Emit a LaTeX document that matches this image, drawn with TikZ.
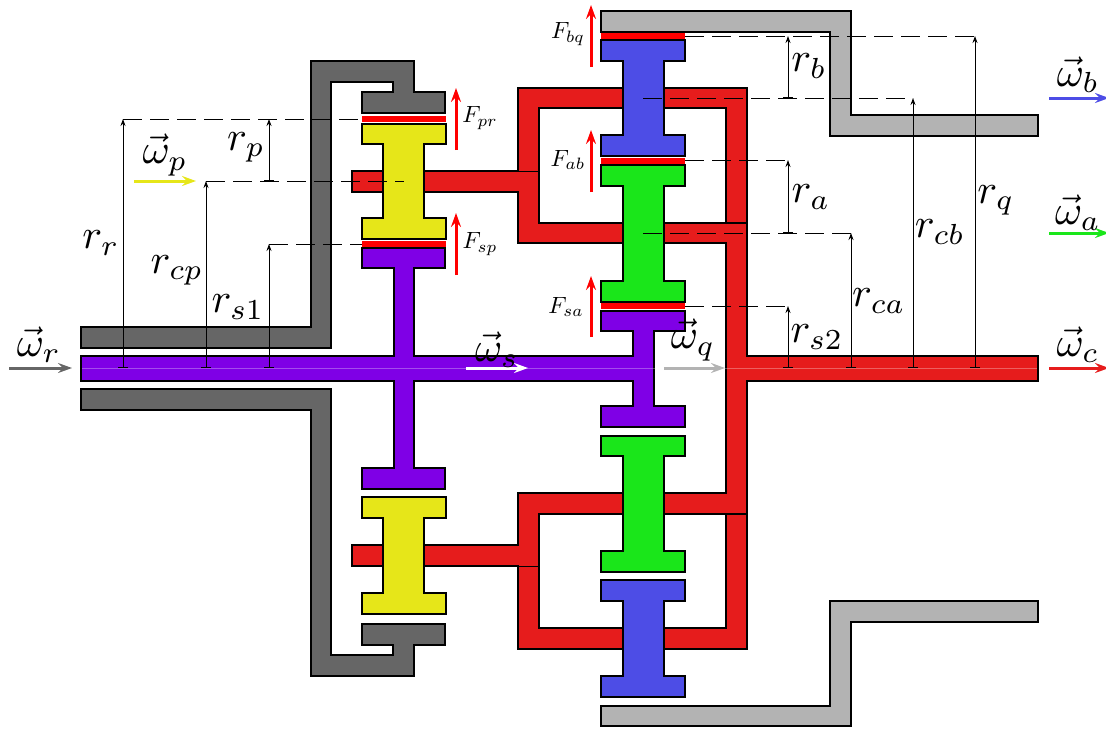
\documentclass[tikz,border=0pt]{standalone}
\usetikzlibrary{arrows.meta}
\definecolor{ringgray}{HTML}{666666}
\definecolor{lightgray}{HTML}{B3B3B3}
\definecolor{carred}{HTML}{E61C1C}
\definecolor{sunpurple}{HTML}{7F00E6}
\definecolor{planyellow}{HTML}{E6E619}
\definecolor{plangreen}{HTML}{1AE61A}
\definecolor{planblue}{HTML}{4D4DE6}
\tikzset{
	part/.style={draw=black,line width=2.2pt,line join=miter},
	strip/.style={fill=red,draw=none},
	seam/.style={line width=0.3pt,white,opacity=0.3},
	dim/.style={line width=0.9pt,{Bar[width=10pt,line width=1.4pt]}-{Stealth[length=7pt,width=5pt]}},
	guide/.style={line width=0.9pt,dash pattern=on 19pt off 8pt},
	speed/.style={line width=3pt,-{Stealth[length=14pt,width=10pt,inset=5pt]}},
	force/.style={line width=3pt,red,-{Stealth[length=14pt,width=10pt,inset=5pt]}},
	big/.style={scale=4.15,inner sep=0pt},
	small/.style={scale=2.35,inner sep=0pt}
}
\begin{document}
\begin{tikzpicture}[x=1pt,y=-1pt]
	\useasboundingbox (0,0) rectangle (1106,729);
	% rings and output
	\draw[part,fill=ringgray] (81,327) -- (311,327) -- (311,61) -- (414,61) -- (414,92) -- (445,92) -- (445,113) -- (362,113) -- (362,92) -- (393,92) -- (393,82) -- (331,82) -- (331,348) -- (81,348) -- cycle;
	\draw[part,fill=ringgray] (81,389) -- (331,389) -- (331,655) -- (393,655) -- (393,645) -- (362,645) -- (362,624) -- (445,624) -- (445,645) -- (414,645) -- (414,676) -- (311,676) -- (311,410) -- (81,410) -- cycle;
	\draw[part,fill=lightgray] (601,11) -- (851,11) -- (851,115) -- (1038,115) -- (1038,136) -- (830,136) -- (830,32) -- (601,32) -- cycle;
	\draw[part,fill=lightgray] (601,706) -- (830,706) -- (830,601) -- (1038,601) -- (1038,622) -- (851,622) -- (851,726) -- (601,726) -- cycle;
	% carrier
	\draw[part,fill=carred,even odd rule] (352,171) -- (518,171) -- (518,88) -- (747,88) -- (747,356) -- (1038,356) -- (1038,381) -- (747,381) -- (747,649) -- (518,649) -- (518,566) -- (352,566) -- (352,545) -- (518,545) -- (518,493) -- (726,493) -- (726,243) -- (518,243) -- (518,192) -- (352,192) -- cycle
		(539,108) -- (726,108) -- (726,223) -- (539,223) -- cycle
		(539,514) -- (726,514) -- (726,628) -- (539,628) -- cycle;
	\draw[line width=2.2pt] (726,223) -- (747,223);
	\draw[line width=2.2pt] (726,514) -- (747,514);
	\draw[line width=0.5pt] (518,171) -- (539,171);
	\draw[line width=0.5pt] (518,566) -- (539,566);
	% sun gears
	\draw[part,fill=sunpurple] (81,356) -- (394,356) -- (394,268) -- (362,268) -- (362,248) -- (445,248) -- (445,268) -- (414,268) -- (414,356) -- (633,356) -- (633,331) -- (601,331) -- (601,311) -- (685,311) -- (685,331) -- (654,331) -- (654,406) -- (685,406) -- (685,427) -- (601,427) -- (601,406) -- (633,406) -- (633,381) -- (414,381) -- (414,468) -- (445,468) -- (445,489) -- (362,489) -- (362,468) -- (394,468) -- (394,381) -- (81,381) -- cycle;
	% planets
	\draw[part,fill=planyellow] (362,124) -- (446,124) -- (446,144) -- (424,144) -- (424,218) -- (446,218) -- (446,239) -- (362,239) -- (362,218) -- (383,218) -- (383,144) -- (362,144) -- cycle;
	\draw[part,fill=planyellow] (362,497) -- (446,497) -- (446,518) -- (424,518) -- (424,593) -- (446,593) -- (446,614) -- (362,614) -- (362,593) -- (383,593) -- (383,518) -- (362,518) -- cycle;
	\draw[part,fill=planblue] (601,40) -- (685,40) -- (685,61) -- (664,61) -- (664,135) -- (685,135) -- (685,156) -- (601,156) -- (601,135) -- (623,135) -- (623,61) -- (601,61) -- cycle;
	\draw[part,fill=planblue] (601,580) -- (685,580) -- (685,601) -- (664,601) -- (664,676) -- (685,676) -- (685,697) -- (601,697) -- (601,676) -- (623,676) -- (623,601) -- (601,601) -- cycle;
	\draw[part,fill=plangreen] (601,165) -- (685,165) -- (685,186) -- (664,186) -- (664,281) -- (685,281) -- (685,302) -- (601,302) -- (601,281) -- (623,281) -- (623,186) -- (601,186) -- cycle;
	\draw[part,fill=plangreen] (601,436) -- (685,436) -- (685,456) -- (664,456) -- (664,551) -- (685,551) -- (685,572) -- (601,572) -- (601,551) -- (623,551) -- (623,456) -- (601,456) -- cycle;
	% contact strips
	\fill[strip] (362,116) rectangle (446,122);
	\fill[strip] (362,241) rectangle (446,247);
	\fill[strip] (601,33) rectangle (685,39);
	\fill[strip] (601,158) rectangle (685,164);
	\fill[strip] (601,303) rectangle (685,309);
	\draw[seam] (82,368) -- (1037,368);
	% radii
	\coordinate (rrb) at (123,368);
	\coordinate (rrt) at (123,119);
	\coordinate (rcpb) at (206,368);
	\coordinate (rcpt) at (206,181);
	\coordinate (rsab) at (269,368);
	\coordinate (rsat) at (269,244);
	\coordinate (rpb) at (269,181);
	\coordinate (rpt) at (269,119);
	\coordinate (rbb) at (788,98);
	\coordinate (rbt) at (788,36);
	\coordinate (rab) at (788,233);
	\coordinate (rat) at (788,160);
	\coordinate (rsbb) at (788,368);
	\coordinate (rsbt) at (788,306);
	\coordinate (rcab) at (851,368);
	\coordinate (rcat) at (851,233);
	\coordinate (rcbb) at (913,368);
	\coordinate (rcbt) at (913,98);
	\coordinate (rqb) at (975,368);
	\coordinate (rqt) at (975,36);
	\coordinate (prc) at (362,119);
	\coordinate (yec) at (404,181);
	\coordinate (spc) at (362,244);
	\coordinate (bqc) at (685,36);
	\coordinate (blc) at (643,98);
	\coordinate (abc) at (685,160);
	\coordinate (grc) at (643,233);
	\coordinate (sac) at (685,306);
	\draw[guide] (rrt) -- (prc);
	\draw[guide] (rcpt) -- (yec);
	\draw[guide] (rsat) -- (spc);
	\draw[guide] (bqc) -- (rqt);
	\draw[guide] (blc) -- (rcbt);
	\draw[guide] (abc) -- (rat);
	\draw[guide] (grc) -- (rcat);
	\draw[guide] (sac) -- (rsbt);
	\draw[dim] (rrb) -- (rrt);
	\draw[dim] (rcpb) -- (rcpt);
	\draw[dim] (rsab) -- (rsat);
	\draw[dim] (rpb) -- (rpt);
	\draw[dim] (rbb) -- (rbt);
	\draw[dim] (rab) -- (rat);
	\draw[dim] (rsbb) -- (rsbt);
	\draw[dim] (rcab) -- (rcat);
	\draw[dim] (rcbb) -- (rcbt);
	\draw[dim] (rqb) -- (rqt);
	\node[big] (Lrr) at (101,243) {$r_r$};
	\node[big] (Lrcp) at (177,270) {$r_{cp}$};
	\node[big] (Lrsa) at (238,307) {$r_{s1}$};
	\node[big] (Lrp) at (246,147) {$r_p$};
	\node[big] (Lrb) at (809,66) {$r_b$};
	\node[big] (Lra) at (811,197) {$r_a$};
	\node[big] (Lrsb) at (817,337) {$r_{s2}$};
	\node[big] (Lrca) at (879,301) {$r_{ca}$};
	\node[big] (Lrcb) at (940,232) {$r_{cb}$};
	\node[big] (Lrq) at (996,200) {$r_q$};
	% speeds
	\coordinate (wrs) at (9,368);
	\coordinate (wre) at (72,368);
	\coordinate (wps) at (134,181);
	\coordinate (wpe) at (196,181);
	\coordinate (wss) at (466,368);
	\coordinate (wse) at (528,368);
	\coordinate (wqs) at (664,368);
	\coordinate (wqe) at (725,368);
	\coordinate (wbs) at (1049,98);
	\coordinate (wbe) at (1109,98);
	\coordinate (was) at (1049,233);
	\coordinate (wae) at (1109,233);
	\coordinate (wcs) at (1049,368);
	\coordinate (wce) at (1109,368);
	\draw[speed,ringgray] (wrs) -- (wre);
	\draw[speed,planyellow] (wps) -- (wpe);
	\draw[speed,white] (wss) -- (wse);
	\draw[speed,lightgray] (wqs) -- (wqe);
	\draw[speed,planblue] (wbs) -- (wbe);
	\draw[speed,plangreen] (was) -- (wae);
	\draw[speed,carred] (wcs) -- (wce);
	\node[big] (Lwr) at (39,345) {$\vec\omega_r$};
	\node[big] (Lwp) at (165,155) {$\vec\omega_p$};
	\node[big] (Lws) at (497,350) {$\vec\omega_s$};
	\node[big] (Lwq) at (693,340) {$\vec\omega_q$};
	\node[big] (Lwb) at (1078,75) {$\vec\omega_b$};
	\node[big] (Lwa) at (1078,213) {$\vec\omega_a$};
	\node[big] (Lwc) at (1078,345) {$\vec\omega_c$};
	% tooth forces
	\coordinate (fprs) at (456,150);
	\coordinate (fpre) at (456,88);
	\coordinate (fsps) at (456,275);
	\coordinate (fspe) at (456,213);
	\coordinate (fbqs) at (591,67);
	\coordinate (fbqe) at (591,5);
	\coordinate (fabs) at (591,192);
	\coordinate (fabe) at (591,130);
	\coordinate (fsas) at (591,337);
	\coordinate (fsae) at (591,276);
	\draw[force] (fprs) -- (fpre);
	\draw[force] (fsps) -- (fspe);
	\draw[force] (fbqs) -- (fbqe);
	\draw[force] (fabs) -- (fabe);
	\draw[force] (fsas) -- (fsae);
	\node[small] (Lfpr) at (480,118) {$F_{pr}$};
	\node[small] (Lfsp) at (480,244) {$F_{sp}$};
	\node[small] (Lfbq) at (568,34) {$F_{bq}$};
	\node[small] (Lfab) at (568,160) {$F_{ab}$};
	\node[small] (Lfsa) at (566,307) {$F_{sa}$};
\end{tikzpicture}
\end{document}
